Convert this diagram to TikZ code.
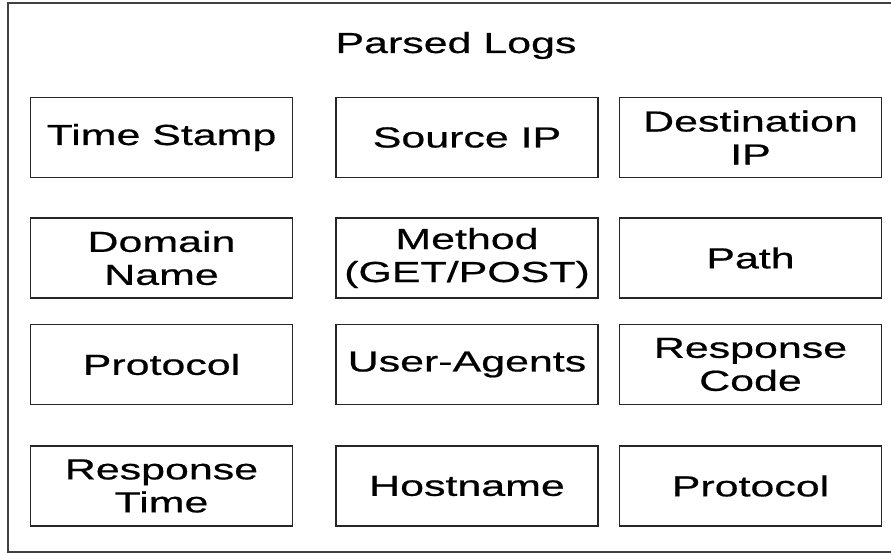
\documentclass[tikz,border=0pt]{standalone}
\usepackage{fontspec}
\setmainfont[FakeStretch=1.48,FakeBold=0.6]{Liberation Sans}
\begin{document}
\begin{tikzpicture}[x=1pt,y=-1pt,
  fieldbox/.style={draw=black!85, line width=1.6pt, minimum width=262pt, minimum height=80pt,
    inner sep=0pt, align=center, font=\fontsize{29}{33}\selectfont},
  frame/.style={draw=black!75, line width=2pt}]
\useasboundingbox (0,0) rectangle (891,553);
\fill[white] (0,0) rectangle (891,553);
\coordinate (ftr) at (895,3.5);
\coordinate (ftl) at (8,3.5);
\coordinate (fbl) at (8,551.5);
\coordinate (fbr) at (895,551.5);
\draw[frame] (ftr) -- (ftl) -- (fbl) -- (fbr);
\node[font=\fontsize{29}{33}\selectfont, anchor=base] (title) at (456,53) {Parsed Logs};
\node[fieldbox] (ts)  at (161.5,137.5) {Time Stamp};
\node[fieldbox] (sip) at (467,137.5) {Source IP};
\node[fieldbox] (dip) at (750.5,137.5) {Destination\\IP};
\node[fieldbox] (dn)  at (161.5,258) {Domain\\Name};
\node[fieldbox] (met) at (467,258) {Method\\(GET/POST)};
\node[fieldbox] (pth) at (750.5,258) {Path};
\node[fieldbox] (pr1) at (161.5,364.5) {Protocol};
\node[fieldbox] (ua)  at (467,364.5) {User-Agents};
\node[fieldbox] (rc)  at (750.5,364.5) {Response\\Code};
\node[fieldbox] (rt)  at (161.5,486) {Response\\Time};
\node[fieldbox] (hn)  at (467,486) {Hostname};
\node[fieldbox] (pr2) at (750.5,486) {Protocol};
\end{tikzpicture}
\end{document}
